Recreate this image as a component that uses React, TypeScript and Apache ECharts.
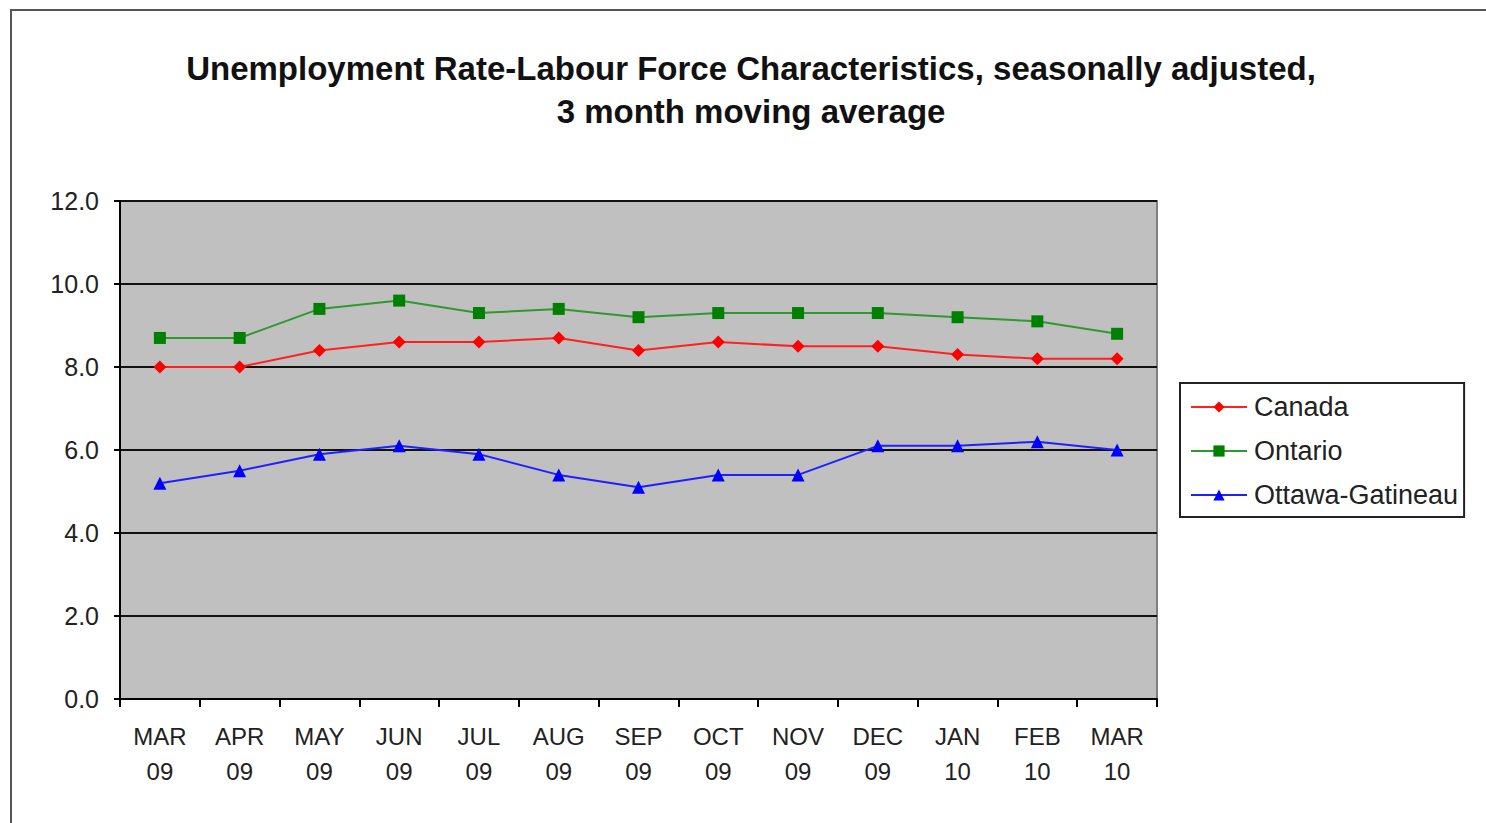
import React, { useEffect, useRef } from "react";
import * as echarts from "echarts";

const months = ["MAR\n09", "APR\n09", "MAY\n09", "JUN\n09", "JUL\n09", "AUG\n09", "SEP\n09", "OCT\n09", "NOV\n09", "DEC\n09", "JAN\n10", "FEB\n10", "MAR\n10"];
const canada = [8.0, 8.0, 8.4, 8.6, 8.6, 8.7, 8.4, 8.6, 8.5, 8.5, 8.3, 8.2, 8.2];
const ontario = [8.7, 8.7, 9.4, 9.6, 9.3, 9.4, 9.2, 9.3, 9.3, 9.3, 9.2, 9.1, 8.8];
const ottawa = [5.2, 5.5, 5.9, 6.1, 5.9, 5.4, 5.1, 5.4, 5.4, 6.1, 6.1, 6.2, 6.0];

const FONT = "'Liberation Sans', Arial, sans-serif";

export default function App() {
  const ref = useRef<HTMLDivElement>(null);
  useEffect(() => {
    if (!ref.current) return;
    const chart = echarts.init(ref.current, null, { renderer: "svg" });
    const mk = (name: string, data: number[], color: string, lineColor: string, symbol: string, size: number) => ({
      name,
      type: "line",
      data,
      symbol,
      symbolSize: size,
      itemStyle: { color },
      lineStyle: { color: lineColor, width: 2 },
    });
    chart.setOption({
      animation: false,
      backgroundColor: "#ffffff",
      textStyle: { fontFamily: FONT },
      title: {
        text: "Unemployment Rate-Labour Force Characteristics, seasonally adjusted,\n3 month moving average",
        left: 746,
        top: 42,
        textAlign: "center",
        textStyle: { fontFamily: FONT, fontSize: 33, fontWeight: "bold", color: "#111", lineHeight: 43 },
      },
      graphic: [
        {
          type: "rect",
          shape: { x: 11, y: 10, width: 1520, height: 840 },
          style: { fill: "none", stroke: "#555", lineWidth: 2 },
          silent: true,
        },
      ],
      legend: {
        orient: "vertical",
        left: 1180,
        top: 383,
        padding: [10, 6, 8, 10],
        itemWidth: 56,
        itemHeight: 14,
        itemGap: 16,
        borderColor: "#222",
        borderWidth: 2,
        backgroundColor: "#fff",
        textStyle: { fontFamily: FONT, fontSize: 27, color: "#222", lineHeight: 28, padding: [0, 0, 0, 2] },
        data: ["Canada", "Ontario", "Ottawa-Gatineau"],
      },
      grid: {
        left: 120,
        top: 201,
        width: 1037,
        height: 498,
        show: true,
        backgroundColor: "#c0c0c0",
        borderColor: "#808080",
        borderWidth: 2,
      },
      xAxis: {
        type: "category",
        data: months,
        boundaryGap: true,
        axisLine: { lineStyle: { color: "#000", width: 2 } },
        axisTick: { show: true, length: 8, lineStyle: { color: "#000", width: 2 } },
        axisLabel: { fontFamily: FONT, fontSize: 24, color: "#222", lineHeight: 35, margin: 20, interval: 0 },
      },
      yAxis: {
        type: "value",
        min: 0,
        max: 12,
        interval: 2,
        axisLine: { show: true, lineStyle: { color: "#000", width: 2 } },
        axisTick: { show: true, length: 6, lineStyle: { color: "#000", width: 2 } },
        axisLabel: { fontFamily: FONT, fontSize: 25, color: "#222", margin: 21, formatter: (v: number) => v.toFixed(1) },
        splitLine: { show: true, lineStyle: { color: "#111", width: 2 } },
      },
      series: [
        mk("Canada", canada, "#ff0000", "#ff2020", "diamond", 13),
        mk("Ontario", ontario, "#008000", "#2e9a2e", "rect", 12),
        mk("Ottawa-Gatineau", ottawa, "#0000ff", "#2020ff", "triangle", 13),
      ],
    });
    return () => chart.dispose();
  }, []);
  return <div ref={ref} style={{ position: "fixed", left: 0, top: 0, width: 1486, height: 823 }} />;
}
